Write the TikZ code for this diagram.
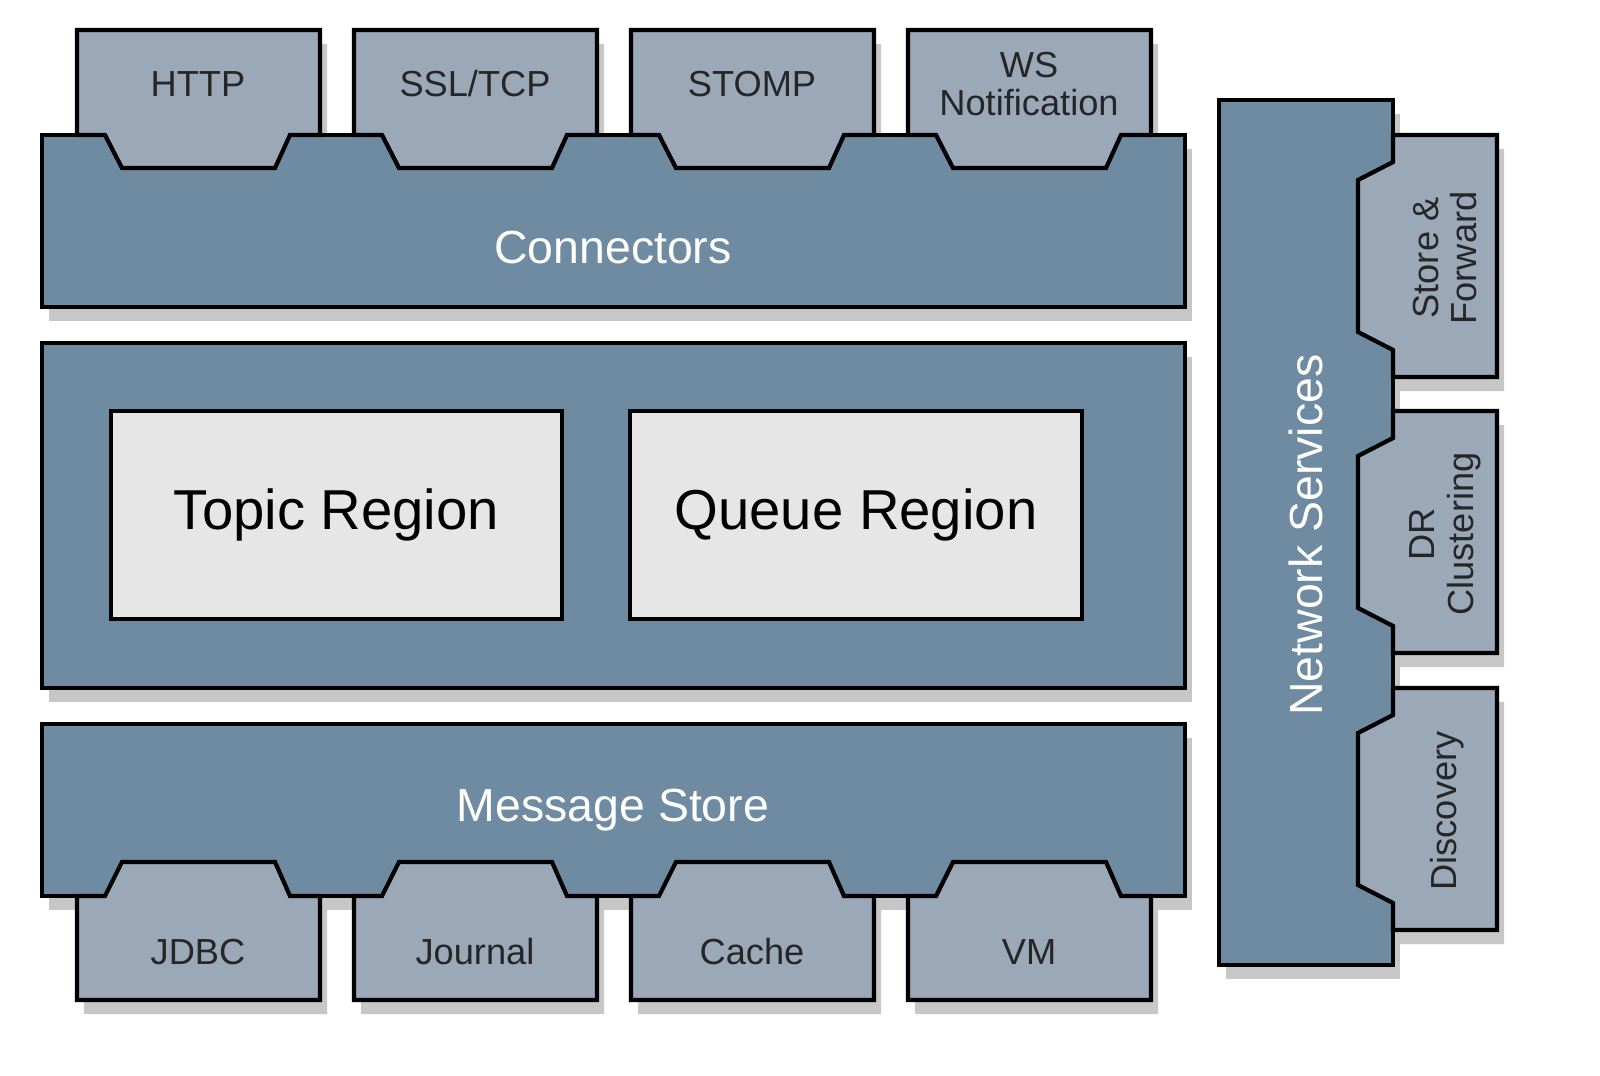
\documentclass[tikz,border=0pt]{standalone}
\usepackage{fontspec}
\setmainfont{Liberation Sans}
\begin{document}
\begin{tikzpicture}[x=0.01cm,y=-0.01cm,
  bar/.style={fill=barc,draw=black,line width=1.2pt},
  tab/.style={fill=tabc,draw=black,line width=1.2pt},
  shd/.style={fill=black,opacity=0.22,draw=none},
  lbl/.style={font=\fontsize{13.2}{15}\selectfont,text=white},
  tl/.style={font=\fontsize{10.3}{12}\selectfont,align=center,text=black!85},
  reg/.style={fill=regc,draw=black,line width=1.2pt,minimum width=4.51cm,minimum height=2.08cm,font=\fontsize{16}{18}\selectfont}]
\definecolor{barc}{HTML}{6F8BA2}
\definecolor{tabc}{HTML}{9BA8B8}
\definecolor{regc}{HTML}{E6E6E6}
\useasboundingbox (0,0) rectangle (1600,1076);
\def\toptab#1{(#1,30)--(#1+243,30)--(#1+243,135)--(#1+213,135)--(#1+198,168)--(#1+45,168)--(#1+28,135)--(#1,135)--cycle}
\def\bottab#1{(#1,1000)--(#1+243,1000)--(#1+243,896)--(#1+213,896)--(#1+198,862)--(#1+45,862)--(#1+28,896)--(#1,896)--cycle}
\def\sidetab#1{(1497,#1)--(1497,#1+242)--(1393,#1+242)--(1393,#1+215)--(1358,#1+197)--(1358,#1+45)--(1393,#1+27)--(1393,#1)--cycle}
% shadows
\begin{scope}[xshift=2pt,yshift=-4pt]
\fill[shd] (42,135) rectangle (1185,307);
\fill[shd] (42,343) rectangle (1185,688);
\fill[shd] (42,724) rectangle (1185,896);
\fill[shd] (1219,100) rectangle (1393,965);
\foreach \x in {77,354,631,908}{\fill[shd] \toptab{\x}; \fill[shd] \bottab{\x};}
\foreach \y in {135,411,688}{\fill[shd] \sidetab{\y};}
\end{scope}
% bars
\draw[bar] (42,135) rectangle (1185,307);
\draw[bar] (42,343) rectangle (1185,688);
\draw[bar] (42,724) rectangle (1185,896);
\draw[bar] (1219,100) rectangle (1393,965);
\foreach \x in {77,354,631,908}{\draw[tab] \toptab{\x}; \draw[tab] \bottab{\x};}
\foreach \y in {135,411,688}{\draw[tab] \sidetab{\y};}
% labels
\node[lbl] (conn) at (613,248) {Connectors};
\node[lbl] (ms) at (613,810) {Message Store};
\node[lbl,rotate=90] (ns) at (1306,535) {Network Services};
\node[reg] (topic) at (336.5,515) {Topic Region};
\node[reg] (queue) at (856,515) {Queue Region};
\node[tl] (http) at (198,84) {HTTP};
\node[tl] (ssl) at (475,84) {SSL/TCP};
\node[tl] (stomp) at (752,84) {STOMP};
\node[tl,align=center] (ws) at (1029,84) {WS\\[-1pt]Notification};
\node[tl] (jdbc) at (198,952) {JDBC};
\node[tl] (journal) at (475,952) {Journal};
\node[tl] (cache) at (752,952) {Cache};
\node[tl] (vm) at (1029,952) {VM};
\node[tl,rotate=90] (sf) at (1445,258) {Store \&\\[-1pt]Forward};
\node[tl,rotate=90] (dr) at (1445,534) {DR\\[-1pt]Clustering};
\node[tl,rotate=90] (disc) at (1447,811) {Discovery};
\end{tikzpicture}
\end{document}
